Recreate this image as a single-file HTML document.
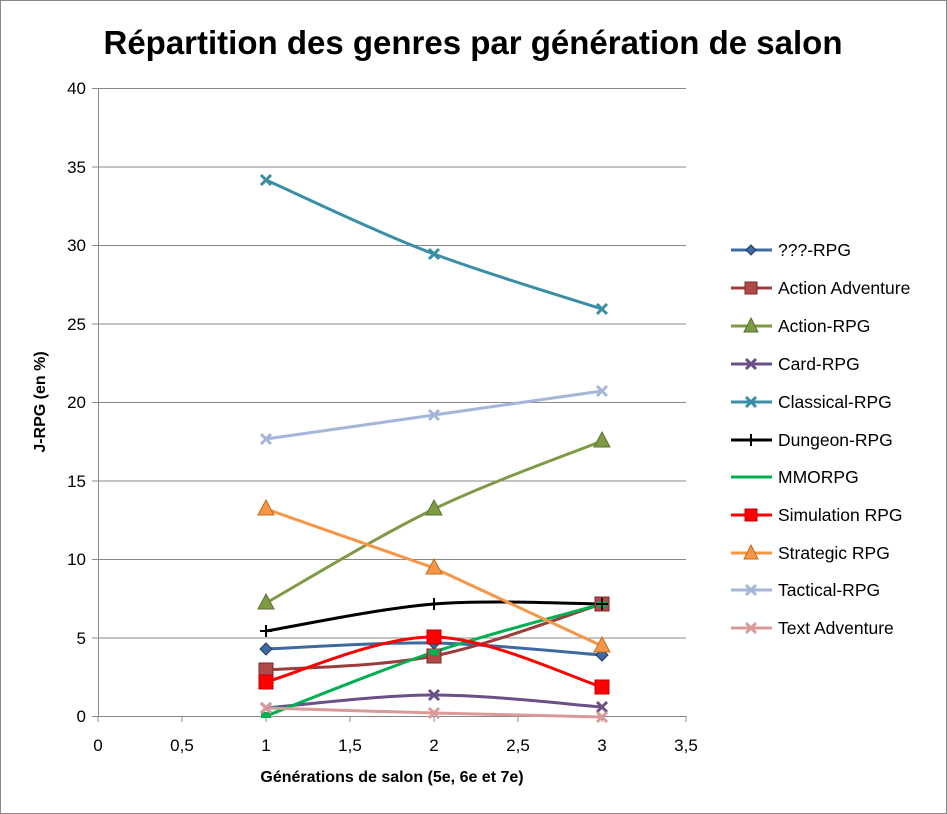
<!DOCTYPE html><html><head><meta charset="utf-8"><style>body{margin:0;background:#fff}svg{display:block}text{font-family:"Liberation Sans",sans-serif}</style></head><body>
<svg width="947" height="814" viewBox="0 0 947 814" xmlns="http://www.w3.org/2000/svg">
<rect x="0.5" y="0.5" width="946" height="813" fill="#fff" stroke="#888"/>
<text x="473" y="54" font-size="33" font-weight="bold" text-anchor="middle" fill="#000">Répartition des genres par génération de salon</text>
<g stroke="#888" stroke-width="1">
<line x1="98" y1="88.5" x2="686" y2="88.5"/><line x1="98" y1="167" x2="686" y2="167"/><line x1="98" y1="245.5" x2="686" y2="245.5"/><line x1="98" y1="324" x2="686" y2="324"/><line x1="98" y1="402.5" x2="686" y2="402.5"/><line x1="98" y1="481" x2="686" y2="481"/><line x1="98" y1="559.5" x2="686" y2="559.5"/><line x1="98" y1="638" x2="686" y2="638"/><line x1="98" y1="716.5" x2="686" y2="716.5"/>
<line x1="98.5" y1="88" x2="98.5" y2="716"/>
<line x1="92" y1="88.5" x2="98" y2="88.5"/><line x1="92" y1="167" x2="98" y2="167"/><line x1="92" y1="245.5" x2="98" y2="245.5"/><line x1="92" y1="324" x2="98" y2="324"/><line x1="92" y1="402.5" x2="98" y2="402.5"/><line x1="92" y1="481" x2="98" y2="481"/><line x1="92" y1="559.5" x2="98" y2="559.5"/><line x1="92" y1="638" x2="98" y2="638"/><line x1="92" y1="716.5" x2="98" y2="716.5"/>
<line x1="182" y1="716" x2="182" y2="722"/><line x1="266" y1="716" x2="266" y2="722"/><line x1="350" y1="716" x2="350" y2="722"/><line x1="434" y1="716" x2="434" y2="722"/><line x1="518" y1="716" x2="518" y2="722"/><line x1="602" y1="716" x2="602" y2="722"/><line x1="686" y1="716" x2="686" y2="722"/><line x1="98" y1="716" x2="98" y2="722"/>
</g>
<g font-size="17" text-anchor="end" fill="#000">
<text x="86" y="94">40</text><text x="86" y="173">35</text><text x="86" y="251">30</text><text x="86" y="330">25</text><text x="86" y="408">20</text><text x="86" y="487">15</text><text x="86" y="565">10</text><text x="86" y="644">5</text><text x="86" y="722">0</text>
</g>
<g font-size="17" text-anchor="middle" fill="#000">
<text x="98" y="751">0</text><text x="182" y="751">0,5</text><text x="266" y="751">1</text><text x="350" y="751">1,5</text><text x="434" y="751">2</text><text x="518" y="751">2,5</text><text x="602" y="751">3</text><text x="686" y="751">3,5</text>
</g>
<text x="392" y="782" font-size="16" font-weight="bold" text-anchor="middle">Générations de salon (5e, 6e et 7e)</text>
<text transform="translate(45,402) rotate(-90)" font-size="16" font-weight="bold" text-anchor="middle">J-RPG (en %)</text>
<g fill="none" stroke-width="3">
<path d="M266,649 C294,648 378,642 434,643 C490,644 574,653 602,655" stroke="#3e6aa0"/>
<path d="M266,670 C294,667.7 378,667 434,656 C490,645 574,612.7 602,604" stroke="#9b3d3b"/>
<path d="M266,603 C294,587.3 378,536 434,509 C490,482 574,452.3 602,441" stroke="#7f9a45"/>
<path d="M266,708 C294,705.8 378,695 434,695 C490,695 574,705 602,707" stroke="#6a5087"/>
<path d="M266,180 C294,192.3 378,233 434,254 C490,275 574,299.8 602,309" stroke="#3a8ea5"/>
<path d="M266,631 C294,626.5 378,608.5 434,604 C490,599.5 574,604 602,604" stroke="#000"/>
<path d="M266,716 C294,705.3 378,670.7 434,652 C490,633.3 574,612 602,604" stroke="#00b050"/>
<path d="M266,682 C294,674.5 378,636.2 434,637 C490,637.8 574,678.7 602,687" stroke="#ff0000"/>
<path d="M266,509 L434,568 L602,646" stroke="#f79646"/>
<path d="M266,439 L434,415 L602,391" stroke="#a5b6d8"/>
<path d="M266,708 L434,713 L602,717" stroke="#d99a99"/>
</g>
<defs>
<g id="dia"><path d="M0,-6 L6,0 L0,6 L-6,0Z"/></g>
<g id="sq"><rect x="-7" y="-7" width="14" height="14"/></g>
<g id="tri"><path d="M0,-9 L8,6 L-8,6Z"/></g>
</defs>
<g fill="#3e6aa0" stroke="#1f3a60"><use href="#dia" x="266" y="649"/><use href="#dia" x="434" y="643"/><use href="#dia" x="602" y="655"/></g>
<g fill="#b04a48" stroke="#7a2a28"><use href="#sq" x="266" y="670"/><use href="#sq" x="434" y="656"/><use href="#sq" x="602" y="604"/></g>
<g fill="#7f9a45" stroke="#5a7030"><use href="#tri" x="266" y="603"/><use href="#tri" x="434" y="509"/><use href="#tri" x="602" y="441"/></g>
<g fill="#f79646" stroke="#c06a20"><use href="#tri" x="266" y="509"/><use href="#tri" x="434" y="568"/><use href="#tri" x="602" y="646"/></g>
<g fill="#ff0000" stroke="#c00000"><use href="#sq" x="266" y="682"/><use href="#sq" x="434" y="637"/><use href="#sq" x="602" y="687"/></g>
<rect x="261" y="712" width="10" height="6" fill="#00b050"/><rect x="429" y="649" width="10" height="6" fill="#00b050"/><rect x="597" y="601" width="10" height="6" fill="#00b050"/>
<g stroke-width="3">
<g stroke="#6a5087"><path d="M261,703 l10,10 M271,703 l-10,10 M429,690 l10,10 M439,690 l-10,10 M597,702 l10,10 M607,702 l-10,10"/></g>
<g stroke="#3a8ea5"><path d="M261,175 l10,10 M271,175 l-10,10 M429,249 l10,10 M439,249 l-10,10 M597,304 l10,10 M607,304 l-10,10"/></g>
<g stroke="#a5b6d8"><path d="M261,434 l10,10 M271,434 l-10,10 M429,410 l10,10 M439,410 l-10,10 M597,386 l10,10 M607,386 l-10,10"/></g>
<g stroke="#d99a99"><path d="M261,703 l10,10 M271,703 l-10,10 M429,708 l10,10 M439,708 l-10,10 M597,712 l10,10 M607,712 l-10,10"/></g>
<g stroke="#000" stroke-width="2"><path d="M260,631 h12 M266,625 v12 M428,604 h12 M434,598 v12 M596,604 h12 M602,598 v12"/></g>
</g>
<g font-size="17.5" fill="#000">
<g transform="translate(0,250)"><line x1="731" x2="772" stroke="#3e6aa0" stroke-width="3"/><path d="M751,-5 L756,0 L751,5 L746,0Z" fill="#3e6aa0" stroke="#1f3a60"/><text x="778" y="6">???-RPG</text></g>
<g transform="translate(0,288)"><line x1="731" x2="772" stroke="#9b3d3b" stroke-width="3"/><rect x="745" y="-6" width="12" height="12" fill="#b04a48" stroke="#7a2a28"/><text x="778" y="6">Action Adventure</text></g>
<g transform="translate(0,326)"><line x1="731" x2="772" stroke="#7f9a45" stroke-width="3"/><path d="M751,-8 L758,6 L744,6Z" fill="#7f9a45" stroke="#5a7030"/><text x="778" y="6">Action-RPG</text></g>
<g transform="translate(0,364)"><line x1="731" x2="772" stroke="#6a5087" stroke-width="3"/><path d="M746,-5 l10,10 M756,-5 l-10,10" stroke="#6a5087" stroke-width="3"/><text x="778" y="6">Card-RPG</text></g>
<g transform="translate(0,402)"><line x1="731" x2="772" stroke="#3a8ea5" stroke-width="3"/><path d="M746,-5 l10,10 M756,-5 l-10,10" stroke="#3a8ea5" stroke-width="3"/><text x="778" y="6">Classical-RPG</text></g>
<g transform="translate(0,440)"><line x1="731" x2="772" stroke="#000" stroke-width="3"/><path d="M751,-6 v12" stroke="#000" stroke-width="2"/><text x="778" y="6">Dungeon-RPG</text></g>
<g transform="translate(0,477)"><line x1="731" x2="772" stroke="#00b050" stroke-width="3"/><text x="778" y="6">MMORPG</text></g>
<g transform="translate(0,515)"><line x1="731" x2="772" stroke="#ff0000" stroke-width="3"/><rect x="745" y="-6" width="12" height="12" fill="#ff0000" stroke="#c00000"/><text x="778" y="6">Simulation RPG</text></g>
<g transform="translate(0,553)"><line x1="731" x2="772" stroke="#f79646" stroke-width="3"/><path d="M751,-8 L758,6 L744,6Z" fill="#f79646" stroke="#c06a20"/><text x="778" y="6">Strategic RPG</text></g>
<g transform="translate(0,590)"><line x1="731" x2="772" stroke="#a5b6d8" stroke-width="3"/><path d="M746,-5 l10,10 M756,-5 l-10,10" stroke="#a5b6d8" stroke-width="3"/><text x="778" y="6">Tactical-RPG</text></g>
<g transform="translate(0,628)"><line x1="731" x2="772" stroke="#d99a99" stroke-width="3"/><path d="M746,-5 l10,10 M756,-5 l-10,10" stroke="#d99a99" stroke-width="3"/><text x="778" y="6">Text Adventure</text></g>
</g>
</svg>
</body></html>
